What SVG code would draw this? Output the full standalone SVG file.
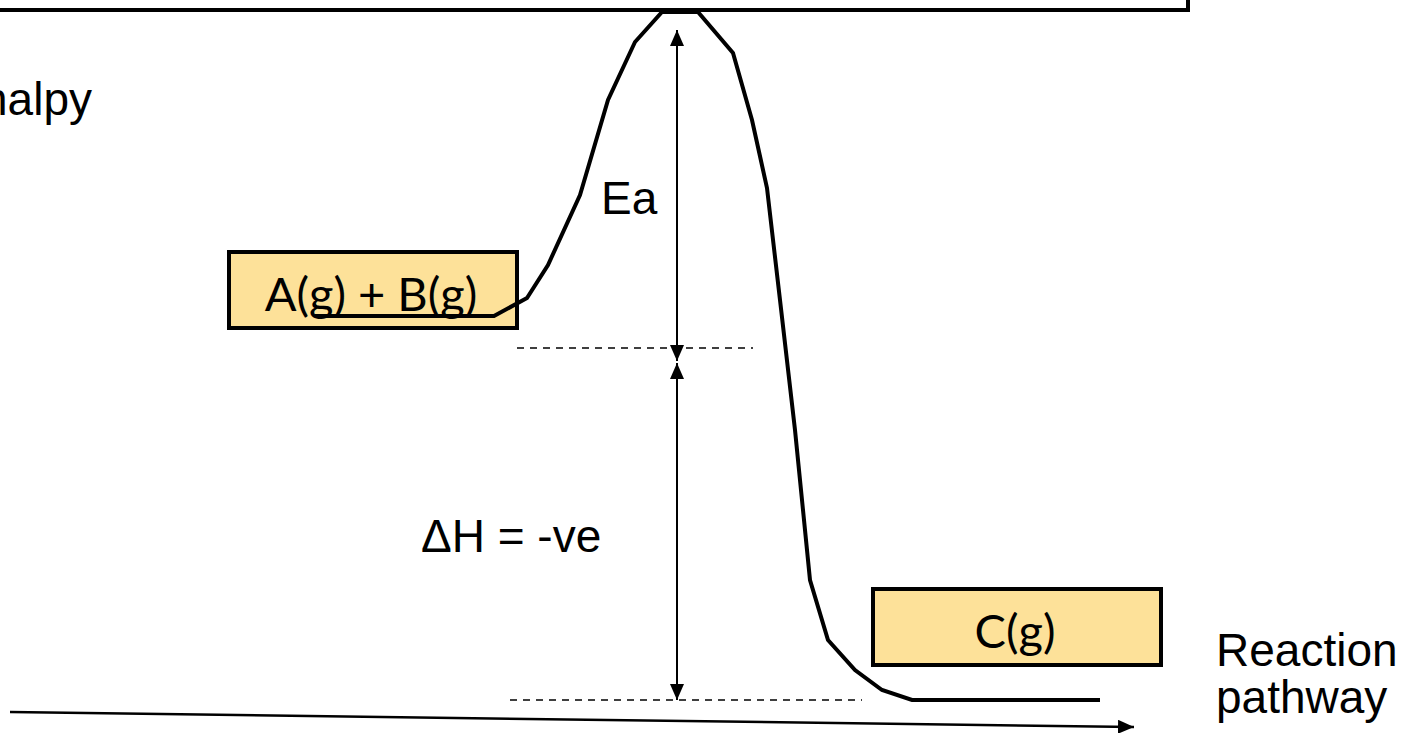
<svg xmlns="http://www.w3.org/2000/svg" width="1406" height="733" viewBox="0 0 1406 733">
<style>
.lbl{font-family:"Liberation Sans",Arial,sans-serif;font-size:46px;fill:#000}
.box{fill:#fde199;stroke:#000;stroke-width:4}
.btxt{font-family:"Lato","Open Sans",sans-serif;font-size:47px;fill:#000;text-anchor:middle}
.dash{stroke:#000;stroke-width:1.5;stroke-dasharray:7 6;fill:none}
.arr{stroke:#000;stroke-width:2;fill:none}
</style>
<defs>
<marker id="ah2" viewBox="0 0 16 14" refX="16" refY="7" markerWidth="16" markerHeight="14" markerUnits="userSpaceOnUse" orient="auto">
<path d="M0,0 L16,7 L0,14 Z" fill="#000"/>
</marker>
</defs>
<rect width="1406" height="733" fill="#fff"/>
<g id="title-box"><rect x="-10" y="-20" width="1198" height="30" fill="#fff" stroke="#000" stroke-width="4"/></g>
<g id="axis-labels">
<text class="lbl" x="92" y="115" text-anchor="end">Enthalpy</text>
<text class="lbl" x="1216" y="666">Reaction</text>
<text class="lbl" x="1216" y="713">pathway</text>
</g>
<g id="node-reactants"><rect class="box" x="229" y="252" width="288" height="76"/><text class="btxt" x="371" y="311">A(g) + B(g)</text></g>
<g id="node-products"><rect class="box" x="873" y="589" width="288" height="76"/><text class="btxt" x="1015" y="648">C(g)</text></g>
<g id="connectors">
<path d="M315,316 L494,316 L527,298 L548,265 L580,195 L608,100 L635,42 L662,12 L698,12 L733,53 L752,120 L767,188 L780,300 L795,430 L810,580 L828,640 L855,670 L882,690 L912,700 L1100,700" fill="none" stroke="#000" stroke-width="4" stroke-linejoin="miter"/>
<line class="dash" x1="517" y1="348" x2="753" y2="348"/>
<line class="dash" x1="510" y1="700" x2="862" y2="700"/>
<line class="arr" x1="677" y1="190" x2="677" y2="30" marker-end="url(#ah2)"/>
<line class="arr" x1="677" y1="190" x2="677" y2="361" marker-end="url(#ah2)"/>
<line class="arr" x1="677" y1="530" x2="677" y2="363" marker-end="url(#ah2)"/>
<line class="arr" x1="677" y1="530" x2="677" y2="700" marker-end="url(#ah2)"/>
<line x1="10" y1="712" x2="1134" y2="727" stroke="#000" stroke-width="2.5" marker-end="url(#ah2)"/>
</g>
<g id="quantity-labels">
<text class="lbl" x="601" y="214">Ea</text>
<text class="lbl" x="421" y="552">ΔH = -ve</text>
</g>
</svg>
